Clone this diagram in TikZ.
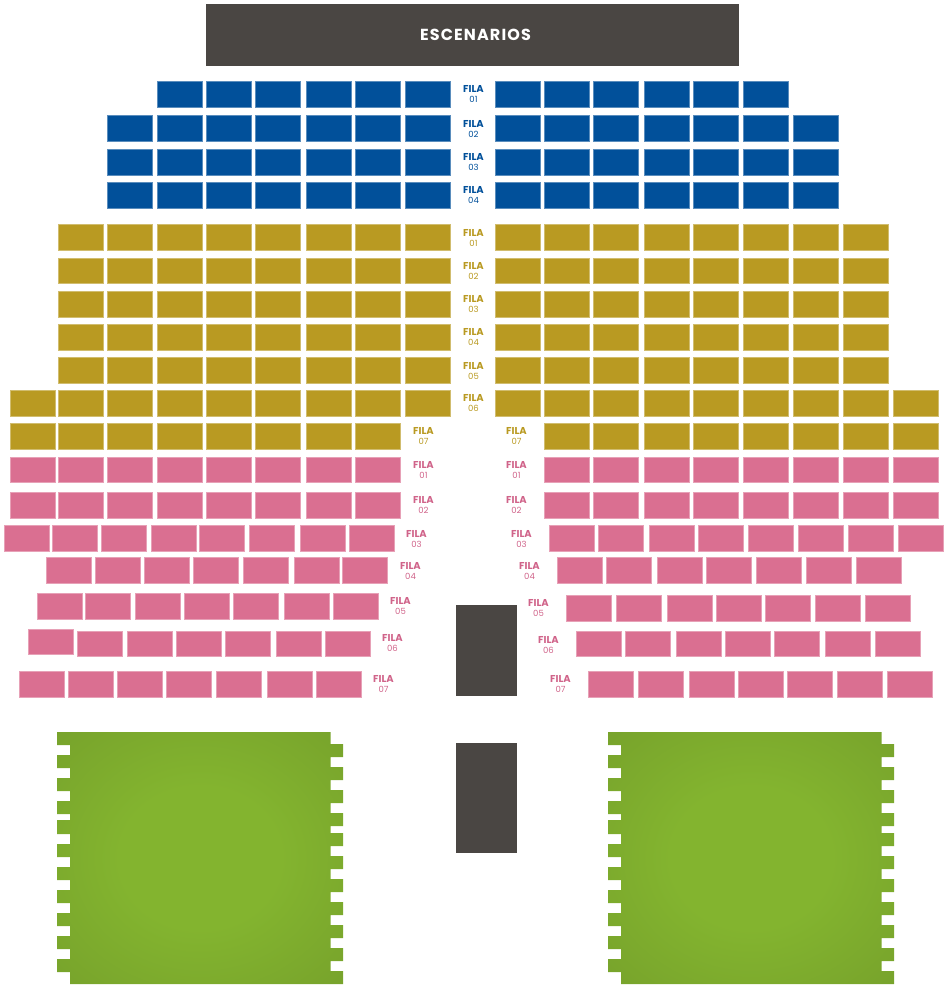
\documentclass[tikz,border=0pt]{standalone}
\usepackage{fontspec}
\setmainfont{Poppins}
\definecolor{stagegrey}{HTML}{4A4643}
\definecolor{seatblue}{HTML}{01509A}
\definecolor{seatgold}{HTML}{B99A22}
\definecolor{seatpink}{HTML}{DA6F91}
\definecolor{labelpink}{HTML}{D0648A}
\definecolor{grassout}{HTML}{76A12B}
\definecolor{grassin}{HTML}{83B42F}
\pgfdeclareradialshading{grassy}{\pgfpointorigin}{color(0bp)=(grassin); color(14bp)=(grassin); color(38bp)=(grassout); color(50bp)=(grassout)}
\def\SeatW{45.4}
\def\SeatH{25.9}
\newcommand{\seatrow}[3]{\foreach \sx in {#3} {\draw[#1] (\sx+0.3,#2+0.3) rectangle ++(\SeatW,\SeatH);}}
\tikzset{
  seatb/.style={fill=seatblue,draw=seatblue!65!white,line width=0.6pt},
  seatg/.style={fill=seatgold,draw=seatgold!65!white,line width=0.6pt},
  seatp/.style={fill=seatpink,draw=seatpink!65!white,line width=0.6pt},
  block/.style={fill=stagegrey},
  filatext/.style={inner sep=0pt,xshift=0.5pt,yshift=-0.5pt,font=\bfseries\fontsize{10}{10}\selectfont},
  numtext/.style={inner sep=0pt,font=\fontsize{8.5}{8.5}\selectfont},
}
\begin{document}
\begin{tikzpicture}[x=1pt,y=-1pt]
	\useasboundingbox (0,0) rectangle (947,988);
	% stage and blocks
	\fill[block] (206,4) rectangle (739,66);
	\node[inner sep=0pt,text=white,font=\bfseries\fontsize{16}{16}\selectfont\addfontfeatures{LetterSpace=7}] (escenarios) at (475.5,34.5) {ESCENARIOS};
	\fill[block] (456,605) rectangle (517,696);
	\fill[block] (456,743) rectangle (517,853);
	% blue rows
	\seatrow{seatb}{81}{157,206,255,306,355,405,495,544,593,644,693,743}
	\foreach \sy in {115,149,182} {
		\seatrow{seatb}{\sy}{107,157,206,255,306,355,405,495,544,593,644,693,743,793}
	}
	% gold rows
	\foreach \sy in {224,257.5,291,324,357} {
		\seatrow{seatg}{\sy}{58,107,157,206,255,306,355,405,495,544,593,644,693,743,793,843}
	}
	\seatrow{seatg}{390}{10,58,107,157,206,255,306,355,405,495,544,593,644,693,743,793,843,893}
	\seatrow{seatg}{423}{10,58,107,157,206,255,306,355,544,593,644,693,743,793,843,893}
	% pink rows
	\foreach \sy in {456.5,492} {
		\seatrow{seatp}{\sy}{10,58,107,157,206,255,306,355,544,593,644,693,743,793,843,893}
	}
	\seatrow{seatp}{525}{4,52,101,151,199,249,300,349,549,598,649,698,748,798,848,898}
	\seatrow{seatp}{557}{46,95,144,193,243,294,342,557,606,657,706,756,806,856}
	\seatrow{seatp}{593}{37,85,135,184,233,284,333}
	\seatrow{seatp}{595}{566,616,667,716,765,815,865}
	\seatrow{seatp}{628.5}{28}
	\seatrow{seatp}{630.5}{77,127,176,225,276,325,576,625,676,725,774,825,875}
	\seatrow{seatp}{671}{19,68,117,166,216,267,316,588,638,689,738,787,837,887}
	% labels
	\foreach \num/\fy in {01/88,02/123,03/156,04/189} {
		\node[filatext,text=seatblue] (fb\num) at (473,\fy) {FILA};
		\node[numtext,text=seatblue] (nb\num) at ([yshift=-11pt]fb\num.center) {\num};
	}
	\foreach \num/\fy in {01/232,02/265,03/298,04/331,05/365,06/397} {
		\node[filatext,text=seatgold] (fg\num) at (473,\fy) {FILA};
		\node[numtext,text=seatgold] (ng\num) at ([yshift=-11pt]fg\num.center) {\num};
	}
	\foreach \tag/\fx in {l/423,r/516} {
		\node[filatext,text=seatgold] (fg07\tag) at (\fx,430) {FILA};
		\node[numtext,text=seatgold] (ng07\tag) at ([yshift=-11pt]fg07\tag.center) {07};
	}
	\foreach \num/\fx/\fy in {01/423/464,02/423/499,03/416/533,04/410/565,05/400/600,06/392/637,07/383/678} {
		\node[filatext,text=labelpink] (fpl\num) at (\fx,\fy) {FILA};
		\node[numtext,text=labelpink] (npl\num) at ([yshift=-11pt]fpl\num.center) {\num};
	}
	\foreach \num/\fx/\fy in {01/516/464,02/516/499,03/521/533,04/529/565,05/538/602,06/548/639,07/560/678} {
		\node[filatext,text=labelpink] (fpr\num) at (\fx,\fy) {FILA};
		\node[numtext,text=labelpink] (npr\num) at ([yshift=-11pt]fpr\num.center) {\num};
	}
	% green fields
	\foreach \dx in {0,551} {
		\begin{scope}[xshift=\dx pt]
			\shade[shading=grassy]
				(57,732) -- (330.5,732)
				\foreach \ya/\yb in {744/757,767/780,790/803,813/826,833/846,856/869,879/892,902/915,925/938,948/961,971/984} {
					-- (330.5,\ya) -- (343,\ya) -- (343,\yb) -- (330.5,\yb)
				}
				-- (70,984)
				\foreach \ya/\yb in {959/972,936/949,913/926,890/903,867/880,844/857,820/834,801/814,778/791,755/768} {
					-- (70,\yb) -- (57,\yb) -- (57,\ya) -- (70,\ya)
				}
				-- (70,745) -- (57,745) -- cycle;
		\end{scope}
	}
\end{tikzpicture}
\end{document}
